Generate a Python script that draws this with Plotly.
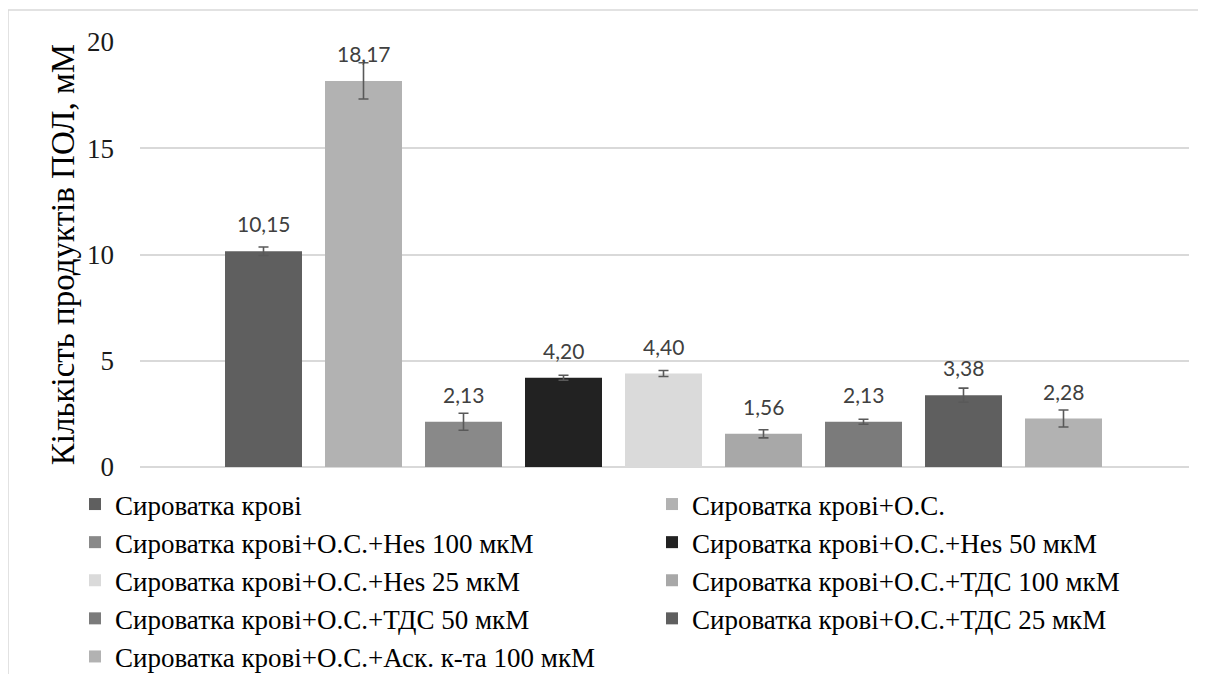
import plotly.graph_objects as go

names = [
    "Сироватка крові",
    "Сироватка крові+О.С.",
    "Сироватка крові+О.С.+Hes 100 мкМ",
    "Сироватка крові+О.С.+Hes 50 мкМ",
    "Сироватка крові+О.С.+Hes 25 мкМ",
    "Сироватка крові+О.С.+ТДС 100 мкМ",
    "Сироватка крові+О.С.+ТДС 50 мкМ",
    "Сироватка крові+О.С.+ТДС 25 мкМ",
    "Сироватка крові+О.С.+Аск. к-та 100 мкМ",
]
values = [10.15, 18.17, 2.13, 4.20, 4.40, 1.56, 2.13, 3.38, 2.28]
errors = [0.20, 0.85, 0.40, 0.12, 0.14, 0.19, 0.12, 0.33, 0.40]
labels = ["10,15", "18,17", "2,13", "4,20", "4,40", "1,56", "2,13", "3,38", "2,28"]
colors = ["#5f5f5f", "#b2b2b2", "#898989", "#222222", "#dadada",
          "#a8a8a8", "#7b7b7b", "#5f5f5f", "#b2b2b2"]

y_ticks = [0, 5, 10, 15, 20]
y_title = "Кількість продуктів ПОЛ, мМ"

SERIF = "Liberation Serif, Times New Roman, serif"

fig = go.Figure()
for i, (n, v, e, c) in enumerate(zip(names, values, errors, colors)):
    fig.add_trace(go.Bar(
        x=[i], y=[v], name=n, width=0.77,
        marker=dict(color=c, line=dict(width=0)),
        error_y=dict(type="data", array=[e], visible=True,
                     color="#595959", thickness=1.6, width=5),
        hoverinfo="skip",
    ))
    fig.add_annotation(x=i, y=v, text=labels[i], showarrow=False,
                       yanchor="bottom", yshift=13,
                       font=dict(family="Lato", size=21, color="#404040"))

border_top = 1 + (42 - 10) / 425
border_left = (8 - 140) / 1049

fig.update_layout(
    width=1198, height=666,
    margin=dict(l=132, r=17, t=34, b=207, autoexpand=False),
    paper_bgcolor="white", plot_bgcolor="white",
    barmode="overlay",
    showlegend=True,
    legend=dict(orientation="h", x=(75 - 140) / 1049, xanchor="left",
                y=(467 - 480) / 425, yanchor="top",
                entrywidth=532, itemwidth=30, traceorder="normal",
                font=dict(family=SERIF, size=27, color="#000000"),
                bgcolor="rgba(0,0,0,0)"),
    xaxis=dict(range=[-1.235, 9.255], showticklabels=False, showgrid=False,
               zeroline=False, showline=False, ticks=""),
    yaxis=dict(range=[0, 20], tickvals=y_ticks, showgrid=True, gridcolor="#d9d9d9",
               gridwidth=1.5, zeroline=True, zerolinecolor="#d9d9d9", zerolinewidth=1.5,
               showline=False, ticks="", ticklabelstandoff=25,
               tickfont=dict(family=SERIF, size=27, color="#1a1a1a"),
               title=dict(text=y_title, standoff=2,
                          font=dict(family=SERIF, size=33, color="#000000"))),
    shapes=[
        dict(type="line", xref="paper", yref="paper",
             x0=border_left, x1=1.1, y0=border_top, y1=border_top,
             line=dict(color="#d9d9d9", width=1.5), layer="below"),
        dict(type="line", xref="paper", yref="paper",
             x0=border_left, x1=border_left, y0=border_top, y1=-0.7,
             line=dict(color="#d9d9d9", width=1.5), layer="below"),
    ],
)

fig.write_html("out.html")
